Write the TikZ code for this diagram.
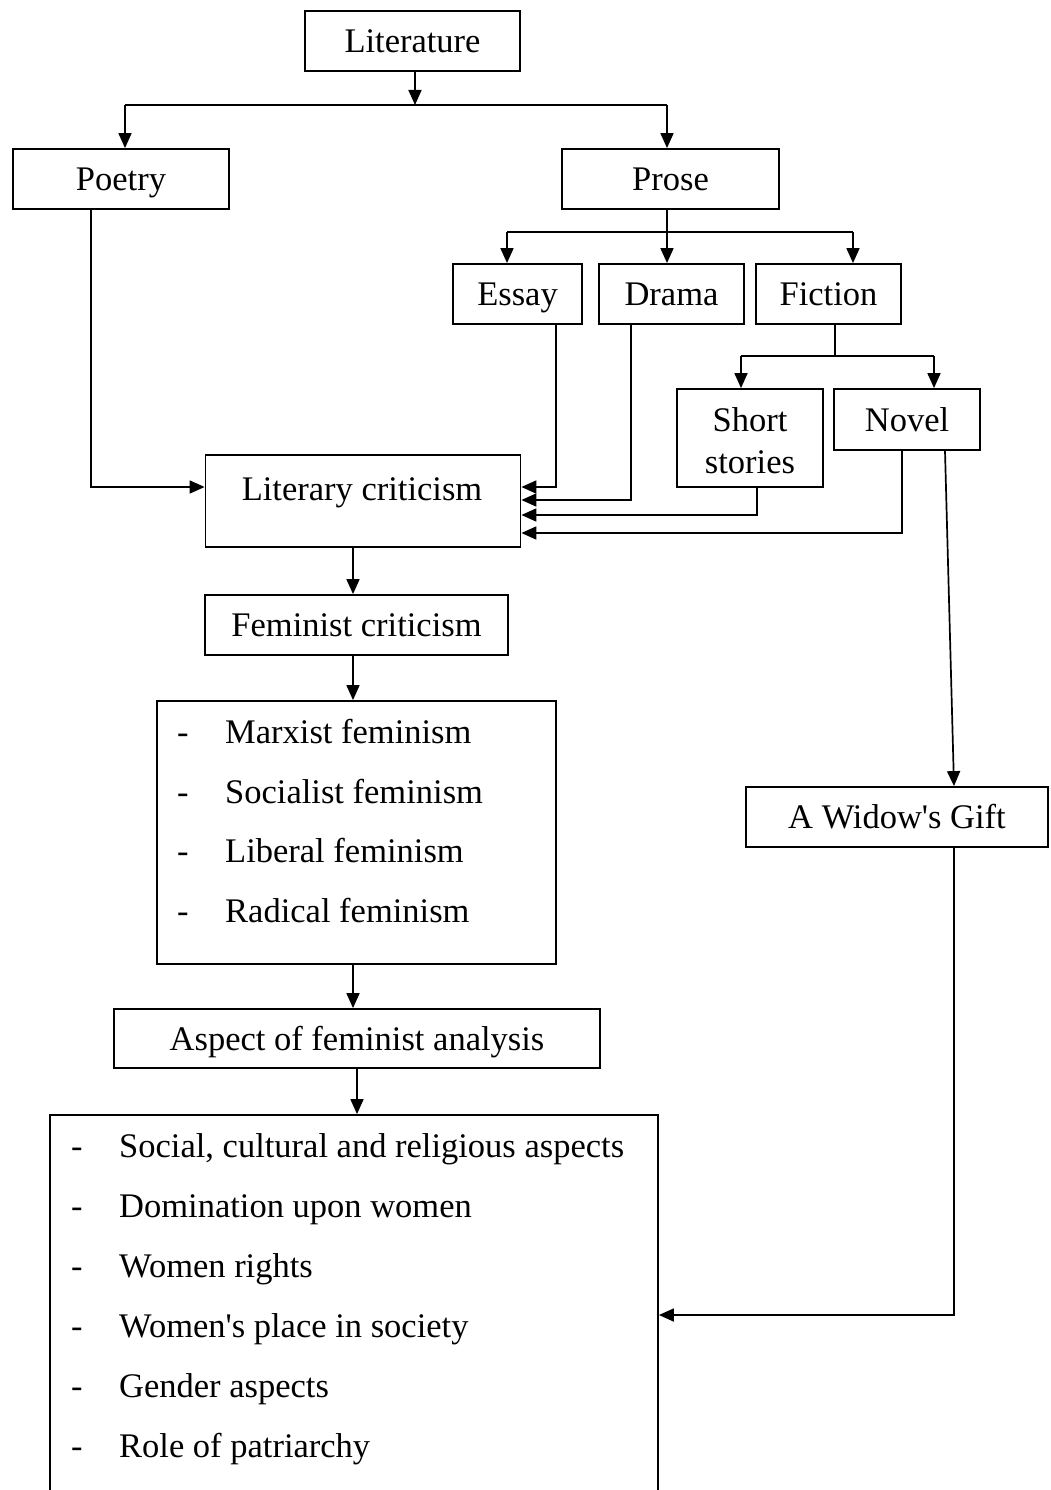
\documentclass[tikz,border=0pt]{standalone}
\usepackage{fontspec}
\setmainfont{Liberation Serif}
\usetikzlibrary{arrows.meta}
\begin{document}
\begin{tikzpicture}[x=1pt,y=-1pt,
  every node/.style={font=\fontsize{34.5}{42}\selectfont},
  box/.style={draw, line width=1.8pt, inner sep=0pt, text height=23pt, text depth=0pt, align=center},
  conn/.style={line width=1.7pt},
  arr/.style={conn, -{Triangle[length=15pt,width=13pt]}},
  txt/.style={inner sep=0pt, anchor=base west},
]
\useasboundingbox (0,0) rectangle (1050,1490);
\fill[white] (0,0) rectangle (1050,1490);
\clip (0,0) rectangle (1050,1490);

% boxes
\node[box, minimum width=215pt, minimum height=60pt] (lit) at (412.5,41) {Literature};
\node[box, minimum width=216pt, minimum height=60pt] (poetry) at (121,179) {Poetry};
\node[box, minimum width=217pt, minimum height=60pt] (prose) at (670.5,179) {Prose};
\node[box, minimum width=129pt, minimum height=60pt] (essay) at (517.5,294) {Essay};
\node[box, minimum width=145pt, minimum height=60pt] (drama) at (671.5,294) {Drama};
\node[box, minimum width=145pt, minimum height=60pt] (fiction) at (828.5,294) {Fiction};
\node[box, minimum width=146pt, minimum height=98pt] (short) at (750,438) {};
\node[txt, anchor=base] (shortA) at (750,431) {Short};
\node[txt, anchor=base] (shortB) at (750,473) {stories};
\node[box, minimum width=146pt, minimum height=61pt] (novel) at (907,419.5) {Novel};
\node[box, minimum width=315pt, minimum height=92pt] (litcrit) at (363,501) {};
\node[txt, anchor=base] (litcritT) at (362,500) {Literary criticism};
\node[box, minimum width=303pt, minimum height=60pt] (fem) at (356.5,625) {Feminist criticism};
\node[box, minimum width=399pt, minimum height=263pt] (types) at (356.5,832.5) {};
\node[box, minimum width=486pt, minimum height=59pt] (aspect) at (357,1038.5) {Aspect of feminist analysis};
\node[box, minimum width=608pt, minimum height=420pt] (aspects) at (354,1325) {};
\node[box, minimum width=302pt, minimum height=60pt] (widow) at (897,817) {A Widow\textquotesingle s Gift};

% feminism list
\node[txt] (td1) at (177,743.5) {-};
\node[txt] (tt1) at (225,743.5) {Marxist feminism};
\node[txt] (td2) at (177,803.5) {-};
\node[txt] (tt2) at (225,803.5) {Socialist feminism};
\node[txt] (td3) at (177,862.5) {-};
\node[txt] (tt3) at (225,862.5) {Liberal feminism};
\node[txt] (td4) at (177,922.5) {-};
\node[txt] (tt4) at (225,922.5) {Radical feminism};

% aspects list
\node[txt] (ad1) at (71,1157) {-};
\node[txt] (at1) at (119,1157) {Social, cultural and religious aspects};
\node[txt] (ad2) at (71,1217) {-};
\node[txt] (at2) at (119,1217) {Domination upon women};
\node[txt] (ad3) at (71,1277) {-};
\node[txt] (at3) at (119,1277) {Women rights};
\node[txt] (ad4) at (71,1337) {-};
\node[txt] (at4) at (119,1337) {Women\textquotesingle s place in society};
\node[txt] (ad5) at (71,1397) {-};
\node[txt] (at5) at (119,1397) {Gender aspects};
\node[txt] (ad6) at (71,1457) {-};
\node[txt] (at6) at (119,1457) {Role of patriarchy};

% Literature -> Poetry / Prose
\coordinate (j0) at (415,105);
\coordinate (jl) at (125,105);
\coordinate (jr) at (667,105);
\draw[arr] (lit.south -| j0) -- (j0);
\draw[conn] (jl) -- (jr);
\draw[arr] (jl) -- (jl |- poetry.north);
\draw[arr] (jr) -- (jr |- prose.north);

% Prose -> Essay / Drama / Fiction
\coordinate (p0) at (667,232);
\coordinate (pl) at (507,232);
\coordinate (pr) at (853,232);
\draw[conn] (prose.south -| p0) -- (p0);
\draw[conn] (pl) -- (pr);
\draw[arr] (pl) -- (pl |- essay.north);
\draw[arr] (p0) -- (p0 |- drama.north);
\draw[arr] (pr) -- (pr |- fiction.north);

% Fiction -> Short stories / Novel
\coordinate (f0) at (835,356);
\coordinate (fl) at (741,356);
\coordinate (fr) at (934,356);
\draw[conn] (fiction.south -| f0) -- (f0);
\draw[conn] (fl) -- (fr);
\draw[arr] (fl) -- (fl |- short.north);
\draw[arr] (fr) -- (fr |- novel.north);

% into Literary criticism
\coordinate (q1) at (91,487);
\draw[arr] (poetry.south -| q1) -- (q1) -- (q1 -| litcrit.west);
\coordinate (e1) at (556,487);
\draw[arr] (essay.south -| e1) -- (e1) -- (e1 -| litcrit.east);
\coordinate (d1) at (631,500);
\draw[arr] (drama.south -| d1) -- (d1) -- (d1 -| litcrit.east);
\coordinate (s1) at (757,515);
\draw[arr] (short.south -| s1) -- (s1) -- (s1 -| litcrit.east);
\coordinate (n1) at (902,533);
\draw[arr] (novel.south -| n1) -- (n1) -- (n1 -| litcrit.east);

% Novel -> A Widow's Gift
\coordinate (n2) at (945,450);
\coordinate (w1) at (954,787);
\draw[arr] (novel.south -| n2) -- (widow.north -| w1);

% main chain
\coordinate (c1) at (353,0);
\coordinate (c2) at (357,0);
\draw[arr] (litcrit.south -| c1) -- (fem.north -| c1);
\draw[arr] (fem.south -| c1) -- (types.north -| c1);
\draw[arr] (types.south -| c1) -- (aspect.north -| c1);
\draw[arr] (aspect.south -| c2) -- (aspects.north -| c2);

% A Widow's Gift -> aspects
\coordinate (w2) at (954,1315);
\draw[arr] (widow.south -| w2) -- (w2) -- (w2 -| aspects.east);
\end{tikzpicture}
\end{document}
